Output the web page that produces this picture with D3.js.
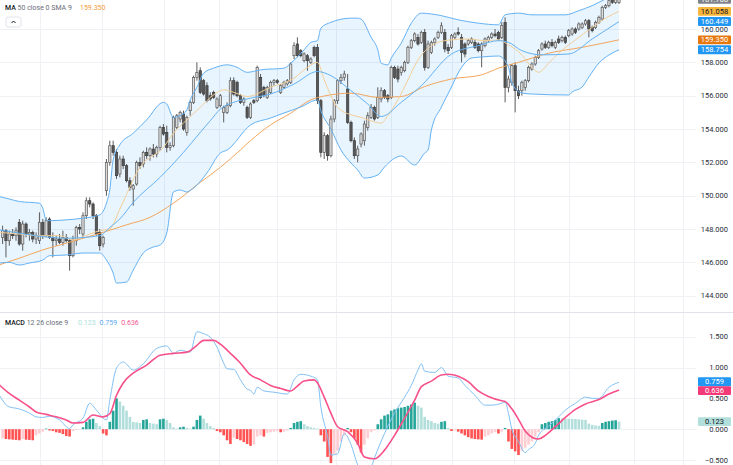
<!DOCTYPE html>
<html>
<head>
<meta charset="utf-8">
<script src="https://cdn.jsdelivr.net/npm/d3@7"></script>
<style>
  body { margin: 0; background: #fff; }
  svg { display: block; font-family: Roboto, "Noto Sans", sans-serif; }
</style>
</head>
<body>
<script>
// candles: [open, high, low, close]
const candles = [
  [147.5,148.2,147.1,147.9],[147.9,148.0,146.3,147.3],[147.3,147.9,147.0,147.7],[147.7,148.0,147.4,147.6],
  [147.6,148.1,147.3,147.9],[148.4,148.6,147.0,147.1],[147.1,148.5,146.7,148.3],[148.3,148.4,147.5,147.7],
  [147.7,148.0,147.3,147.8],[147.8,147.9,147.2,147.4],[147.4,147.8,147.1,147.6],[147.3,149.0,147.1,148.4],
  [148.4,148.6,147.4,147.6],[147.6,148.7,147.5,148.5],[148.6,148.7,147.4,147.5],[147.5,147.8,146.3,147.3],
  [147.3,147.6,147.0,147.4],[147.4,147.7,147.1,147.2],[147.2,147.9,147.0,147.5],[147.5,147.7,147.2,147.3],
  [147.3,147.4,145.5,146.4],[146.4,147.6,146.3,147.4],[147.3,148.2,147.0,148.1],[148.1,148.3,147.7,148.0],
  [147.7,149.0,147.5,148.8],[148.8,149.9,148.6,149.7],[149.7,149.9,149.3,149.5],[149.5,149.6,148.6,148.8],
  [148.8,148.9,147.6,147.7],[147.8,148.0,146.7,147.0],[147.1,147.6,146.9,147.5],[150.3,152.2,150.0,152.0],
  [152.0,153.3,151.8,153.0],[153.0,153.3,152.4,152.6],[152.6,152.8,151.0,151.2],[151.3,152.4,151.1,152.2],
  [152.2,152.4,151.6,151.8],[151.8,151.9,150.8,150.9],[150.9,151.1,150.3,150.5],[150.4,150.7,149.4,150.6],
  [150.7,152.1,150.6,152.0],[152.0,152.3,151.6,151.8],[151.9,152.7,151.7,152.6],[152.6,152.9,152.2,152.4],
  [152.4,152.9,152.1,152.8],[152.8,153.1,152.3,152.5],[152.5,153.0,152.3,152.9],[152.9,154.2,152.7,154.1],
  [154.1,154.3,153.6,153.7],[153.8,154.2,152.6,152.9],[152.9,153.2,152.7,153.0],[153.0,154.8,152.9,154.7],
  [154.1,154.9,154.0,154.8],[154.6,155.1,154.4,155.0],[154.9,155.1,153.9,154.0],[153.8,154.8,153.6,154.7],
  [155.1,155.7,154.8,155.6],[155.6,157.2,155.5,157.1],[157.1,158.0,156.9,157.4],[157.5,157.7,156.1,156.2],
  [156.9,157.0,156.0,156.1],[156.6,156.8,155.6,155.7],[156.0,156.2,155.7,155.8],[156.2,156.3,155.8,155.9],
  [155.3,155.9,155.2,155.8],[155.4,156.1,155.3,156.0],[155.0,155.4,154.4,155.3],[155.0,155.6,154.9,155.4],
  [155.4,157.1,155.3,156.9],[156.9,157.1,156.0,156.1],[156.8,156.9,155.9,156.0],[156.0,156.1,155.5,155.6],
  [155.6,155.9,155.4,155.8],[155.3,155.4,154.6,154.7],[154.7,155.6,154.6,155.5],[155.7,155.8,155.5,155.6],
  [155.7,157.8,155.6,157.7],[157.1,157.3,155.8,155.9],[156.5,156.6,155.9,156.0],[155.9,156.6,155.8,156.5],
  [156.2,156.9,156.1,156.8],[156.8,157.0,156.6,156.9],[156.9,157.0,156.7,156.8],[156.2,156.7,156.1,156.6],
  [156.5,156.9,156.4,156.8],[156.7,157.0,156.6,156.9],[156.8,158.0,156.7,157.9],[158.4,159.2,158.2,159.0],
  [159.1,159.5,158.3,158.4],[158.7,158.8,158.3,158.4],[158.1,158.6,158.0,158.5],[158.4,158.5,157.5,158.1],
  [158.0,158.3,157.9,158.2],[158.9,159.0,158.3,158.4],[158.9,159.1,155.5,155.7],[155.7,155.8,152.3,152.6],
  [152.6,153.8,152.2,153.6],[153.6,153.7,152.1,152.4],[152.4,154.8,152.3,154.6],[154.6,155.8,154.4,155.7],
  [155.7,157.0,155.5,156.9],[156.9,157.3,156.7,157.1],[157.1,157.5,156.9,157.3],[156.4,157.3,154.3,154.4],
  [154.4,154.5,153.2,153.3],[153.3,153.5,152.2,152.4],[152.4,153.0,152.0,152.8],[153.1,153.8,152.9,153.7],
  [153.3,154.5,153.0,154.3],[154.1,155.0,153.9,154.8],[154.7,155.5,154.6,155.3],[155.3,155.4,154.5,154.6],
  [154.7,156.5,154.6,155.9],[155.8,156.5,155.6,156.3],[156.3,156.4,155.8,155.9],[156.0,156.1,155.6,155.8],
  [155.9,157.8,155.8,157.7],[157.7,157.8,157.0,157.1],[157.6,157.8,156.8,157.0],[157.4,157.8,157.2,157.7],
  [157.5,158.1,157.4,158.0],[158.0,159.0,157.9,158.9],[158.9,159.4,158.8,159.3],[159.3,159.8,159.2,159.7],
  [159.5,159.7,159.0,159.1],[159.2,159.9,159.1,159.8],[159.8,160.0,157.5,157.7],[157.7,159.3,157.6,159.1],
  [158.6,159.3,158.5,159.2],[159.2,159.5,159.0,159.4],[159.5,159.9,159.4,159.8],[159.8,160.4,159.7,160.2],
  [159.8,160.0,158.6,158.8],[158.9,159.1,158.5,158.7],[158.9,159.7,158.8,159.6],[159.5,159.8,159.4,159.7],
  [159.8,160.1,159.6,159.7],[159.5,159.7,158.0,158.6],[159.1,159.2,158.3,158.5],[159.1,159.4,159.0,159.3],
  [159.2,159.5,159.1,159.4],[159.2,159.4,158.8,158.9],[159.1,159.2,158.6,158.7],[158.7,159.2,157.7,159.1],
  [159.0,159.5,158.9,159.4],[159.3,159.6,159.2,159.5],[159.5,159.8,159.4,159.7],[159.7,160.0,159.5,159.6],
  [159.8,159.9,159.3,159.4],[159.5,160.4,159.4,160.2],[160.4,160.7,155.6,156.5],[156.5,157.2,156.2,157.0],
  [156.8,157.9,156.6,157.8],[157.8,158.0,155.0,156.3],[156.3,156.6,155.8,156.0],[156.3,156.9,156.0,156.8],
  [156.5,157.0,156.3,156.9],[156.9,157.8,156.8,157.7],[157.6,158.0,157.5,157.9],[157.9,158.4,157.8,158.3],
  [158.3,158.8,158.2,158.7],[158.8,159.2,158.7,159.1],[159.1,159.3,158.8,158.9],[158.9,159.3,158.8,159.2],
  [159.2,159.4,158.9,159.0],[158.9,159.3,158.8,159.2],[159.4,159.6,159.1,159.2],[159.3,159.6,159.2,159.5],
  [159.5,159.6,159.1,159.2],[159.6,160.0,159.5,159.9],[159.7,160.1,159.6,160.0],[160.0,160.1,159.7,159.8],
  [160.0,160.4,159.9,160.3],[160.1,160.4,160.0,160.3],[160.3,160.6,160.2,160.5],[160.5,160.6,159.5,160.0],
  [160.1,160.2,159.8,159.9],[160.1,160.5,160.0,160.4],[160.4,160.8,160.3,160.7],[160.6,161.4,160.5,161.3],
  [161.3,161.5,161.2,161.4],[161.4,161.8,161.3,161.7],[161.8,162.0,161.5,161.6],[161.6,162.0,161.5,161.8],
  [161.6,162.0,161.5,161.78]
]

// indicator lines: [bar index, value]
const bbUpper = [[-1,149.95],[2,149.8],[5,149.65],[11,149.55],[12,149.25],[13,148.55],[14,148.5],[19,148.55],[24,148.65],
  [29,148.85],[31,149.55],[32,150.35],[33,152.15],[35,153.05],[39,153.75],[43,154.55],[48,155.6],[49,155.5],[51,154.7],
  [53,154.8],[55,155.15],[56,155.75],[58,156.5],[60,157.35],[63,157.65],[67,157.85],[70,157.7],[73,157.4],[77,157.55],
  [84,157.65],[86,157.95],[90,158.75],[92,159.2],[94,159.3],[95,160.05],[98,160.4],[104,160.65],[106,160.65],[107,160.6],
  [110,159.5],[112,158.75],[113,157.95],[115,157.85],[116,158.25],[119,159.15],[122,160.35],[125,160.95],[128,160.9],
  [131,160.8],[136,160.55],[142,160.35],[148,160.25],[150,160.85],[154,160.95],[158,160.85],[168,160.85],[172,161.1],
  [176,161.4],[178,161.6],[181,161.9],[184,162.14]]
const bbBasis = [[-1,147.95],[5,147.75],[10,147.6],[19,147.45],[29,147.6],[32,148.1],[35,148.6],[39,149.6],[47,151.1],
  [54,152.6],[59,153.8],[62,154.5],[65,155.2],[69,155.6],[74,155.85],[80,156.1],[87,156.7],[94,157.45],[98,157.2],
  [104,156.3],[109,155.5],[113,154.75],[119,155.6],[125,156.6],[134,158.5],[142,159.0],[148,159.3],[151,159.2],
  [155,158.7],[161,158.45],[169,158.5],[176,159.4],[184,160.449]]
const bbLower = [[-1,145.96],[2,146.0],[5,145.84],[8,145.96],[12,146.14],[14,146.4],[19,146.44],[24,146.56],[29,146.56],
  [31,146.14],[33,145.36],[34,144.76],[37,144.82],[39,145.54],[42,146.56],[45,146.92],[47,147.04],[49,147.76],[51,150.22],
  [53,150.34],[55,150.22],[57,150.46],[61,151.36],[65,152.56],[67,152.74],[74,154.24],[80,154.66],[84,154.96],[89,155.32],
  [94,155.74],[95,155.1],[98,154.0],[101,152.74],[104,151.96],[106,151.54],[108,151.06],[112,151.24],[114,151.72],
  [119,152.38],[123,151.84],[126,152.56],[127,152.74],[128,153.94],[131,155.32],[134,156.52],[136,157.36],[138,157.96],
  [140,158.26],[143,158.32],[148,158.38],[151,157.72],[152,156.76],[155,156.16],[158,156.1],[169,156.04],[170,156.22],
  [173,156.52],[175,157.12],[178,157.96],[181,158.44],[184,158.754]]
const fastMa = [[-1,147.8],[5,147.7],[11,147.6],[17,147.6],[21,147.35],[26,147.7],[29,147.9],[32,148.0],[35,149.2],
  [41,151.7],[48,152.9],[51,153.75],[55,154.55],[59,155.3],[63,156.05],[66,156.35],[69,156.2],[73,155.95],[80,156.5],
  [87,157.05],[91,157.7],[94,158.0],[96,156.95],[100,155.3],[104,154.85],[107,154.7],[113,154.35],[115,154.8],
  [118,155.75],[121,156.95],[124,158.15],[127,158.85],[130,159.2],[134,159.35],[139,159.4],[144,159.3],[148,159.35],
  [151,159.05],[155,158.45],[158,157.7],[160,157.4],[163,157.95],[166,158.55],[172,159.5],[175,159.95],[180,160.65],
  [184,161.058]]
const ma50 = [[-1,145.85],[5,146.25],[12,146.75],[19,147.15],[25,147.5],[30,147.8],[37,148.25],[44,148.7],[51,149.55],
  [59,150.8],[65,151.7],[71,152.75],[74,153.3],[80,154.25],[86,154.95],[92,155.75],[96,155.98],[104,156.15],[112,155.9],
  [119,155.95],[126,156.55],[134,157.0],[143,157.25],[148,157.65],[154,158.0],[163,158.55],[173,158.9],[184,159.35]]

// MACD pane
const macdHist = [-0.15,-0.16,-0.165,-0.17,-0.175,-0.18,-0.16,-0.17,-0.175,-0.18,-0.10,-0.07,-0.04,0.01,-0.02,-0.03,
  -0.05,-0.06,-0.08,-0.11,-0.12,-0.03,-0.01,-0.005,0.03,0.12,0.16,0.17,0.10,0.05,-0.07,-0.10,0.12,0.30,0.50,0.45,
  0.38,0.30,0.20,0.12,0.11,0.10,0.15,0.16,0.10,0.09,0.08,0.16,0.17,0.15,0.10,0.03,0.01,0.03,0.04,0.02,0.01,0.04,
  0.15,0.22,0.17,0.10,0.05,0.02,-0.03,-0.05,-0.10,-0.18,-0.24,-0.14,-0.16,-0.18,-0.21,-0.24,-0.27,-0.25,-0.12,-0.10,
  -0.12,-0.06,-0.05,-0.04,-0.03,-0.05,-0.04,-0.02,0.02,0.10,0.12,0.13,0.08,0.05,0.03,0.02,0.01,-0.10,-0.20,-0.45,
  -0.55,-0.40,-0.35,-0.20,-0.10,0.02,-0.05,-0.15,-0.25,-0.38,-0.25,-0.15,-0.05,-0.02,0.08,0.16,0.22,0.24,0.30,0.32,
  0.34,0.35,0.36,0.38,0.40,0.43,0.38,0.35,0.20,0.15,0.13,0.10,0.09,0.12,0.13,0.02,-0.03,-0.02,-0.04,-0.07,-0.10,
  -0.13,-0.15,-0.16,-0.165,-0.17,-0.12,-0.10,-0.07,-0.05,-0.07,-0.04,0.02,-0.20,-0.32,-0.36,-0.42,-0.35,-0.30,-0.25,
  -0.20,-0.12,-0.05,0.08,0.10,0.12,0.13,0.15,0.18,0.175,0.17,0.168,0.166,0.165,0.16,0.155,0.15,0.09,0.07,0.06,0.055,
  0.10,0.12,0.13,0.14,0.145,0.123]
const macdLine = [[-1,0.55],[2,0.36],[4,0.34],[6,0.31],[8,0.26],[10,0.20],[12,0.19],[14,0.21],[17,0.15],[20,0.01],
  [21,0.07],[24,0.18],[26,0.42],[28,0.31],[31,0.15],[32,0.47],[34,0.99],[36,1.09],[39,0.96],[42,1.06],[46,1.31],
  [49,1.35],[51,1.23],[53,1.28],[56,1.25],[58,1.58],[60,1.55],[62,1.49],[64,1.33],[66,1.07],[67,0.98],[69,0.97],
  [71,0.80],[73,0.65],[74,0.63],[75,0.57],[76,0.68],[78,0.62],[81,0.60],[85,0.57],[87,0.80],[89,0.89],[92,0.86],
  [94,0.80],[95,0.36],[97,-0.12],[98,-0.42],[100,-0.40],[102,-0.07],[104,-0.25],[106,-0.58],[108,-0.72],[110,-0.62],
  [111,-0.47],[114,-0.07],[117,0.26],[120,0.52],[122,0.71],[124,0.96],[125,1.06],[126,0.94],[129,0.92],[131,1.00],
  [133,0.86],[136,0.83],[138,0.71],[141,0.55],[144,0.39],[146,0.39],[149,0.42],[150,0.44],[151,0.26],[152,0.00],
  [154,-0.20],[156,-0.38],[157,-0.33],[159,-0.23],[160,-0.10],[163,0.05],[166,0.20],[168,0.31],[171,0.42],[174,0.52],
  [176,0.50],[178,0.50],[181,0.68],[184,0.759]]
const signalLine = [[-1,0.72],[2,0.58],[5,0.47],[8,0.36],[10,0.28],[13,0.24],[16,0.20],[19,0.15],[21,0.10],[24,0.11],
  [27,0.23],[30,0.20],[32,0.25],[34,0.55],[36,0.75],[39,0.91],[43,1.04],[47,1.20],[51,1.23],[55,1.25],[58,1.36],
  [60,1.44],[63,1.44],[65,1.38],[68,1.23],[71,1.07],[74,0.88],[77,0.80],[80,0.71],[83,0.66],[86,0.62],[88,0.70],
  [90,0.78],[93,0.80],[94,0.75],[96,0.52],[98,0.26],[100,0.04],[103,-0.04],[106,-0.23],[108,-0.45],[111,-0.48],
  [114,-0.34],[117,-0.10],[120,0.18],[123,0.47],[125,0.69],[128,0.78],[131,0.88],[133,0.89],[136,0.86],[139,0.77],
  [142,0.62],[145,0.53],[149,0.46],[150,0.45],[152,0.33],[154,0.16],[156,-0.03],[158,-0.13],[160,-0.16],[162,-0.10],
  [165,0.04],[168,0.19],[171,0.32],[174,0.41],[178,0.48],[181,0.57],[184,0.636]]

// ticks and time grid (bar positions of the vertical grid lines)
const priceTicks = [144, 146, 148, 150, 152, 154, 156, 158, 160]
const macdTicks = [-0.5, 0, 0.5, 1, 1.5]
const gridBars = [11.3, 29.8, 48.2, 64.7, 81.8, 99.4, 115.8, 134.1, 152.7, 169.2, 188.6, 203.0]

const width = 733, height = 465
const paneRight = 696
const priceBottom = 312, macdTop = 313

const x = d3.scaleLinear().domain([0, candles.length - 1]).range([2.6, 619])
const y = d3.scaleLinear().domain([144, 160]).range([295.7, 29])
const ym = d3.scaleLinear().domain([-0.5, 1.5]).range([460, 336.7])

const last = arr => arr[arr.length - 1][1]
const fmt = d3.format('.3f')

const svg = d3.select('body').append('svg')
    .attr('width', width)
    .attr('height', height)

const defs = svg.append('defs')
defs.append('clipPath').attr('id', 'clipPrice')
  .append('rect').attr('x', 0).attr('y', 0).attr('width', paneRight).attr('height', priceBottom)
defs.append('clipPath').attr('id', 'clipMacd')
  .append('rect').attr('x', 0).attr('y', macdTop).attr('width', paneRight).attr('height', height - macdTop)

// grid
const grid = svg.append('g').attr('stroke', '#eff1f4').attr('stroke-width', 1)
grid.selectAll('.vg').data(gridBars).join('line')
    .attr('x1', d => Math.round(x(d)) + 0.5).attr('x2', d => Math.round(x(d)) + 0.5)
    .attr('y1', 0).attr('y2', height)
grid.selectAll('.hp').data(priceTicks).join('line')
    .attr('x1', 0).attr('x2', paneRight)
    .attr('y1', d => Math.round(y(d)) + 0.5).attr('y2', d => Math.round(y(d)) + 0.5)
grid.selectAll('.hm').data(macdTicks).join('line')
    .attr('x1', 0).attr('x2', paneRight)
    .attr('y1', d => Math.round(ym(d)) + 0.5).attr('y2', d => Math.round(ym(d)) + 0.5)

svg.append('line')
    .attr('x1', 0).attr('x2', width)
    .attr('y1', priceBottom + 0.5).attr('y2', priceBottom + 0.5)
    .attr('stroke', '#e0e3eb')

// price pane
const price = svg.append('g').attr('clip-path', 'url(#clipPrice)')

const line = d3.line().x(d => x(d[0])).y(d => y(d[1])).curve(d3.curveMonotoneX)

// Bollinger fill: upper edge forward, lower edge back
const fillPath = line(bbUpper) + 'L' + line(bbLower.slice().reverse()).slice(1) + 'Z'
price.append('path')
    .attr('d', fillPath)
    .attr('fill', 'rgba(33,150,243,0.1)')

const candle = price.selectAll('.candle').data(candles).join('g')
candle.append('line')
    .attr('x1', (d, i) => x(i)).attr('x2', (d, i) => x(i))
    .attr('y1', d => y(d[1])).attr('y2', d => y(d[2]))
    .attr('stroke', '#5c5c5c').attr('stroke-width', 1)
candle.append('rect')
    .attr('x', (d, i) => x(i) - 1.15)
    .attr('width', 2.3)
    .attr('y', d => y(Math.max(d[0], d[3])))
    .attr('height', d => Math.max(0.8, Math.abs(y(d[0]) - y(d[3]))))
    .attr('fill', d => d[3] >= d[0] ? '#dadada' : '#575757')
    .attr('stroke', d => d[3] >= d[0] ? '#5c5c5c' : '#3c3c3c')
    .attr('stroke-width', 0.7)

price.append('path').attr('d', line(ma50))
    .attr('fill', 'none').attr('stroke', '#f2a65e').attr('stroke-width', 1)
price.append('path').attr('d', line(fastMa))
    .attr('fill', 'none').attr('stroke', '#f3cf97').attr('stroke-width', 1)
;[bbUpper, bbBasis, bbLower].forEach(s => {
  price.append('path').attr('d', line(s))
      .attr('fill', 'none').attr('stroke', '#64b2f4').attr('stroke-width', 1)
})

// MACD pane
const macd = svg.append('g').attr('clip-path', 'url(#clipMacd)')
const histColor = (d, i) => {
  const prev = i > 0 ? macdHist[i - 1] : d
  if (d >= 0) return d >= prev ? '#26a69a' : '#b2dfdb'
  return d < prev ? '#ff5252' : '#ffcdd2'
}
macd.selectAll('.bar').data(macdHist).join('rect')
    .attr('x', (d, i) => x(i) - 1.3)
    .attr('width', 2.6)
    .attr('y', d => Math.min(ym(d), ym(0)))
    .attr('height', d => Math.abs(ym(d) - ym(0)))
    .attr('fill', histColor)

const mline = d3.line().x(d => x(d[0])).y(d => ym(d[1])).curve(d3.curveMonotoneX)
macd.append('path').attr('d', mline(macdLine))
    .attr('fill', 'none').attr('stroke', '#82c1f6').attr('stroke-width', 1)
macd.append('path').attr('d', mline(signalLine))
    .attr('fill', 'none').attr('stroke', '#f7508a').attr('stroke-width', 1.6)

// right scale labels
const axisText = svg.append('g')
    .attr('font-size', '7.5px').attr('fill', '#2a2e39').attr('text-anchor', 'end')
axisText.selectAll('.pt').data(priceTicks).join('text')
    .attr('x', 728).attr('y', d => y(d)).attr('dy', '0.35em').text(d => fmt(d))
axisText.selectAll('.mt').data(macdTicks).join('text')
    .attr('x', 728).attr('y', d => ym(d)).attr('dy', '0.35em').text(d => fmt(d))

// value boxes on the scale, pushed apart when they overlap
const boxH = 8.8
function valueBoxes(items) {
  items.sort((a, b) => a.y - b.y)
  for (let i = 1; i < items.length; i++) {
    const gap = items[i].y - items[i - 1].y
    if (gap < boxH) {
      const shift = (boxH - gap) / 2
      items[i - 1].y -= shift
      items[i].y += shift
    }
  }
  const g = svg.append('g').selectAll('g').data(items).join('g')
      .attr('transform', d => `translate(698, ${d.y})`)
  g.append('rect')
      .attr('x', 0).attr('y', -boxH / 2).attr('width', 33).attr('height', boxH).attr('rx', 1)
      .attr('fill', d => d.bg)
  g.append('text')
      .attr('x', 16.5).attr('dy', '0.35em').attr('text-anchor', 'middle')
      .attr('font-size', '7.5px').attr('fill', d => d.fg)
      .text(d => fmt(d.v))
}
const lastClose = candles[candles.length - 1][3]
valueBoxes([
  {v: lastClose, y: y(lastClose), bg: '#7f8289', fg: '#fff'},
  {v: last(fastMa), y: y(last(fastMa)), bg: '#f8b53b', fg: '#131722'},
  {v: last(bbBasis), y: y(last(bbBasis)), bg: '#2196f3', fg: '#fff'},
  {v: last(ma50), y: y(last(ma50)), bg: '#e6780f', fg: '#fff'},
  {v: last(bbLower), y: y(last(bbLower)), bg: '#2196f3', fg: '#fff'}
])
valueBoxes([
  {v: last(macdLine), y: ym(last(macdLine)), bg: '#2196f3', fg: '#fff'},
  {v: last(signalLine), y: ym(last(signalLine)), bg: '#f23a78', fg: '#fff'},
  {v: macdHist[macdHist.length - 1], y: ym(macdHist[macdHist.length - 1]), bg: '#b2dfdb', fg: '#131722'}
])

// legends: values follow the title, never closer than a small gap
const legend = svg.append('g').attr('font-size', '7px')
function legendRow(yPos, name, params, values, startX) {
  const title = legend.append('text').attr('x', 5).attr('y', yPos).attr('dy', '0.35em')
  title.append('tspan').attr('fill', '#131722').attr('font-weight', 500).text(name)
  title.append('tspan').attr('fill', '#6a6d78').text(' ' + params)
  let vx = Math.max(startX, title.node().getComputedTextLength() + 5 + 6)
  values.forEach(v => {
    const t = legend.append('text').attr('x', vx).attr('y', yPos).attr('dy', '0.35em')
        .attr('fill', v.color).text(fmt(v.value))
    vx += t.node().getComputedTextLength() + 4
  })
}
legendRow(8, 'MA', '50 close 0 SMA 9', [{value: last(ma50), color: '#f29b3a'}], 80)
legendRow(323, 'MACD', '12 26 close 9', [
  {value: macdHist[macdHist.length - 1], color: '#a8e0d8'},
  {value: last(macdLine), color: '#5aa9f2'},
  {value: last(signalLine), color: '#f4588f'}
], 78)

// collapse button
const btn = svg.append('g').attr('transform', 'translate(6, 17)')
btn.append('rect').attr('width', 15).attr('height', 10).attr('rx', 2)
    .attr('fill', '#fff').attr('stroke', '#e0e3eb')
btn.append('path').attr('d', 'M5.5,6 L7.5,4 L9.5,6')
    .attr('fill', 'none').attr('stroke', '#131722').attr('stroke-width', 1)
</script>
</body>
</html>
